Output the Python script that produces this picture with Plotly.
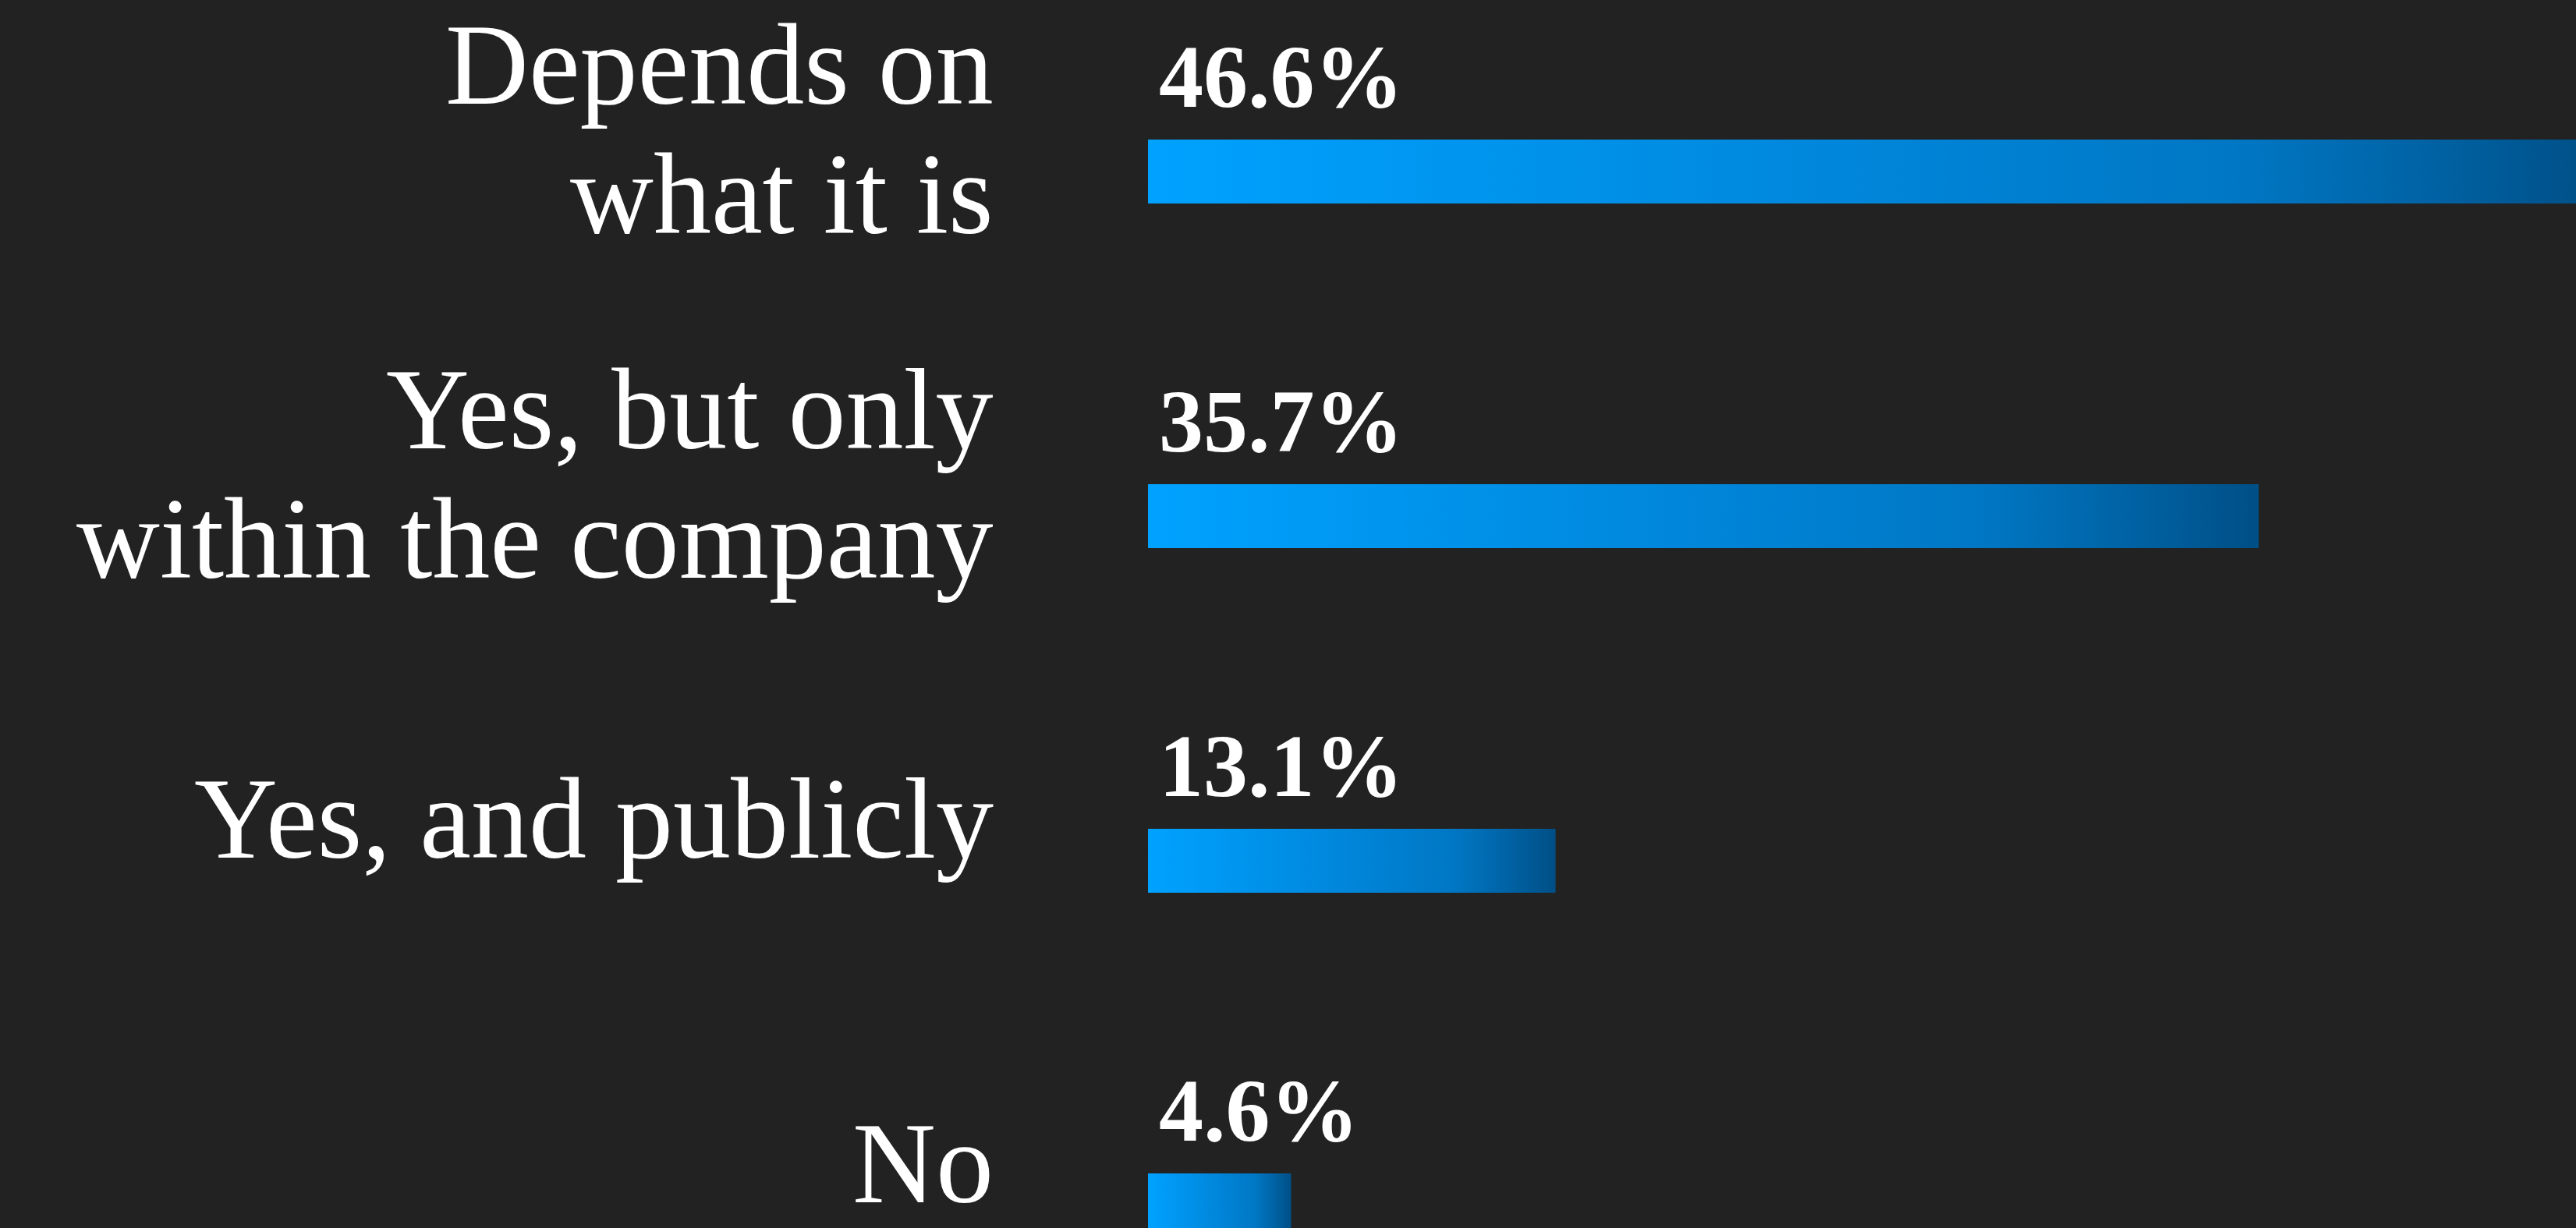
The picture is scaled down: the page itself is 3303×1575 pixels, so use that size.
import plotly.graph_objects as go

# ---- data ----
categories = ["Depends on\nwhat it is", "Yes, but only\nwithin the company", "Yes, and publicly", "No"]
values = [46.6, 35.7, 13.1, 4.6]

# ---- style ----
BG = "#222222"
LABEL_FONT = "Liberation Serif"
grad_scale = [[0.0, "#00a2ff"], [0.45, "#0088dd"], [0.75, "#0077c4"],
              [0.88, "#0063a5"], [1.0, "#004f86"]]
half = 0.0928         # half bar thickness in category units
line_gap = 166        # px between label lines
label_lift = 54       # px label block sits above bar centre

fig = go.Figure()

for i, (cat, v) in enumerate(zip(categories, values)):
    fig.add_trace(go.Scatter(
        x=[0, v, v, 0, 0],
        y=[i - half, i - half, i + half, i + half, i - half],
        mode="lines", fill="toself",
        line=dict(width=0, color="rgba(0,0,0,0)"),
        fillgradient=dict(type="horizontal", colorscale=grad_scale),
        hoverinfo="skip", showlegend=False,
    ))
    # percentage label above bar
    fig.add_annotation(
        x=0, y=i - half, xref="x", yref="y",
        text=f"{v:.1f}%", showarrow=False, borderpad=0,
        xanchor="left", yanchor="bottom", xshift=13, yshift=16,
        font=dict(family=LABEL_FONT, size=114, color="white", weight="bold"),
    )
    # category label (one annotation per line)
    lines = cat.split("\n")
    n = len(lines)
    for k, ln in enumerate(lines):
        fig.add_annotation(
            x=0, y=i, xref="paper", yref="y",
            text=ln, showarrow=False, borderpad=0,
            xanchor="right", yanchor="middle", align="right",
            xshift=-197, yshift=label_lift - (k - (n - 1) / 2) * line_gap,
            font=dict(family=LABEL_FONT, size=148, color="white"),
        )

fig.update_layout(
    width=3303, height=1575,
    paper_bgcolor=BG, plot_bgcolor=BG,
    margin=dict(l=1472, r=0, t=0, b=0),
    xaxis=dict(range=[0, 45.9], visible=False, fixedrange=True),
    yaxis=dict(range=[3.06561, -0.49774], visible=False, fixedrange=True),
    showlegend=False,
)

fig.write_html(
    "out.html",
    config={"displayModeBar": False},
    post_script="document.body.style.margin='0';document.body.style.overflow='hidden';document.body.style.background='#222222';",
)
